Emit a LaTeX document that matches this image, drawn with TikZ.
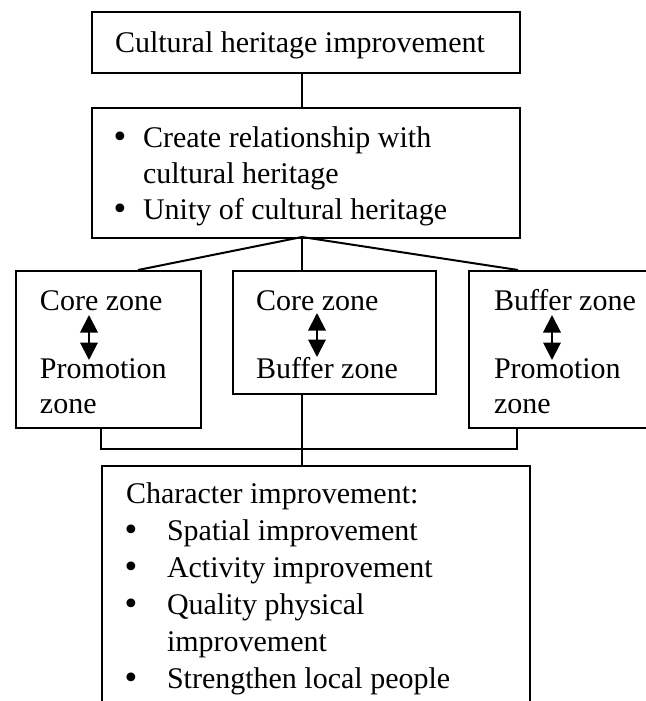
\documentclass[tikz,border=0pt]{standalone}
\usepackage{fontspec}
\setmainfont{Liberation Serif}
\newfontfamily\dotfont{DejaVu Sans}
\usetikzlibrary{arrows.meta,calc}
\newcommand\bigdot{{\dotfont\textbullet}}

\begin{document}
\begin{tikzpicture}[x=0.4pt,y=-0.4pt,line width=0.8pt,
    box/.style={draw,anchor=north west,inner sep=0pt},
    txt/.style={anchor=base west,inner sep=0pt,font=\fontsize{12}{14}\selectfont},
    dbl/.style={{Triangle[width=7pt,length=7pt]}-{Triangle[width=7pt,length=7pt]}}]
  \useasboundingbox (0,0) rectangle (646,701);
  % frames
  \node[box,minimum width=171.2pt,minimum height=24.4pt] (head) at (91,11) {};
  \node[box,minimum width=171.2pt,minimum height=52pt] (aims) at (91,107) {};
  \node[box,minimum width=74pt,minimum height=62.8pt] (zl) at (15,270) {};
  \node[box,minimum width=81.2pt,minimum height=49.2pt] (zm) at (232,270) {};
  \node[box,minimum width=80pt,minimum height=62.8pt] (zr) at (468,270) {};
  \node[box,minimum width=171.2pt,minimum height=110pt] (base) at (101,465) {};
  % texts
  \node[txt] (title) at (114,52) {Cultural heritage improvement};
  \node[txt] (ab1) at (110,147) {\bigdot};
  \node[txt] (a1) at (142,147) {Create relationship with};
  \node[txt] (a2) at (142,183) {cultural heritage};
  \node[txt] (ab3) at (110,219) {\bigdot};
  \node[txt] (a3) at (142,219) {Unity of cultural heritage};
  \foreach \n/\x/\s/\t/\u in {l/39/Core zone/Promotion/zone,m/255/Core zone/Buffer zone/,r/493/Buffer zone/Promotion/zone}{
    \node[txt] (\n top) at (\x,310) {\s};
    \node[txt] (\n bot) at (\x,378) {\t};
    \node[txt] (\n end) at (\x,413) {\u};
  }
  \draw[dbl] ($(ltop.base west)+(50,5)$) -- ($(lbot.base west)+(50,-18)$);
  \draw[dbl] ($(mtop.base west)+(62,3)$) -- ($(mbot.base west)+(62,-21)$);
  \draw[dbl] ($(rtop.base west)+(59,5)$) -- ($(rbot.base west)+(59,-18)$);
  \node[txt] (ch) at (125,503) {Character improvement:};
  \foreach \t/\b [count=\i] in {Spatial improvement/1,Activity improvement/1,Quality physical/1,improvement/0,Strengthen local people/1}{
    \node[txt] (c\i) at (166,{503+37*\i}) {\t};
    \ifnum\b=1 \node[txt] (cb\i) at (121,{503+37*\i}) {\bigdot}; \fi
  }
  % connectors
  \coordinate (hub) at (302,237);
  \draw (hub |- head.south) -- (hub |- aims.north);
  \draw (hub) -- ($(zl.north west)+(123,0)$);
  \draw (hub) -- (hub |- zm.north);
  \draw (hub) -- ($(zr.north west)+(50,0)$);
  \draw ($(zl.south west)+(86,0)$) -- ++(0,20) -| ($(zr.south west)+(49,0)$);
  \draw (hub |- zm.south) -- (hub |- base.north);
\end{tikzpicture}
\end{document}
